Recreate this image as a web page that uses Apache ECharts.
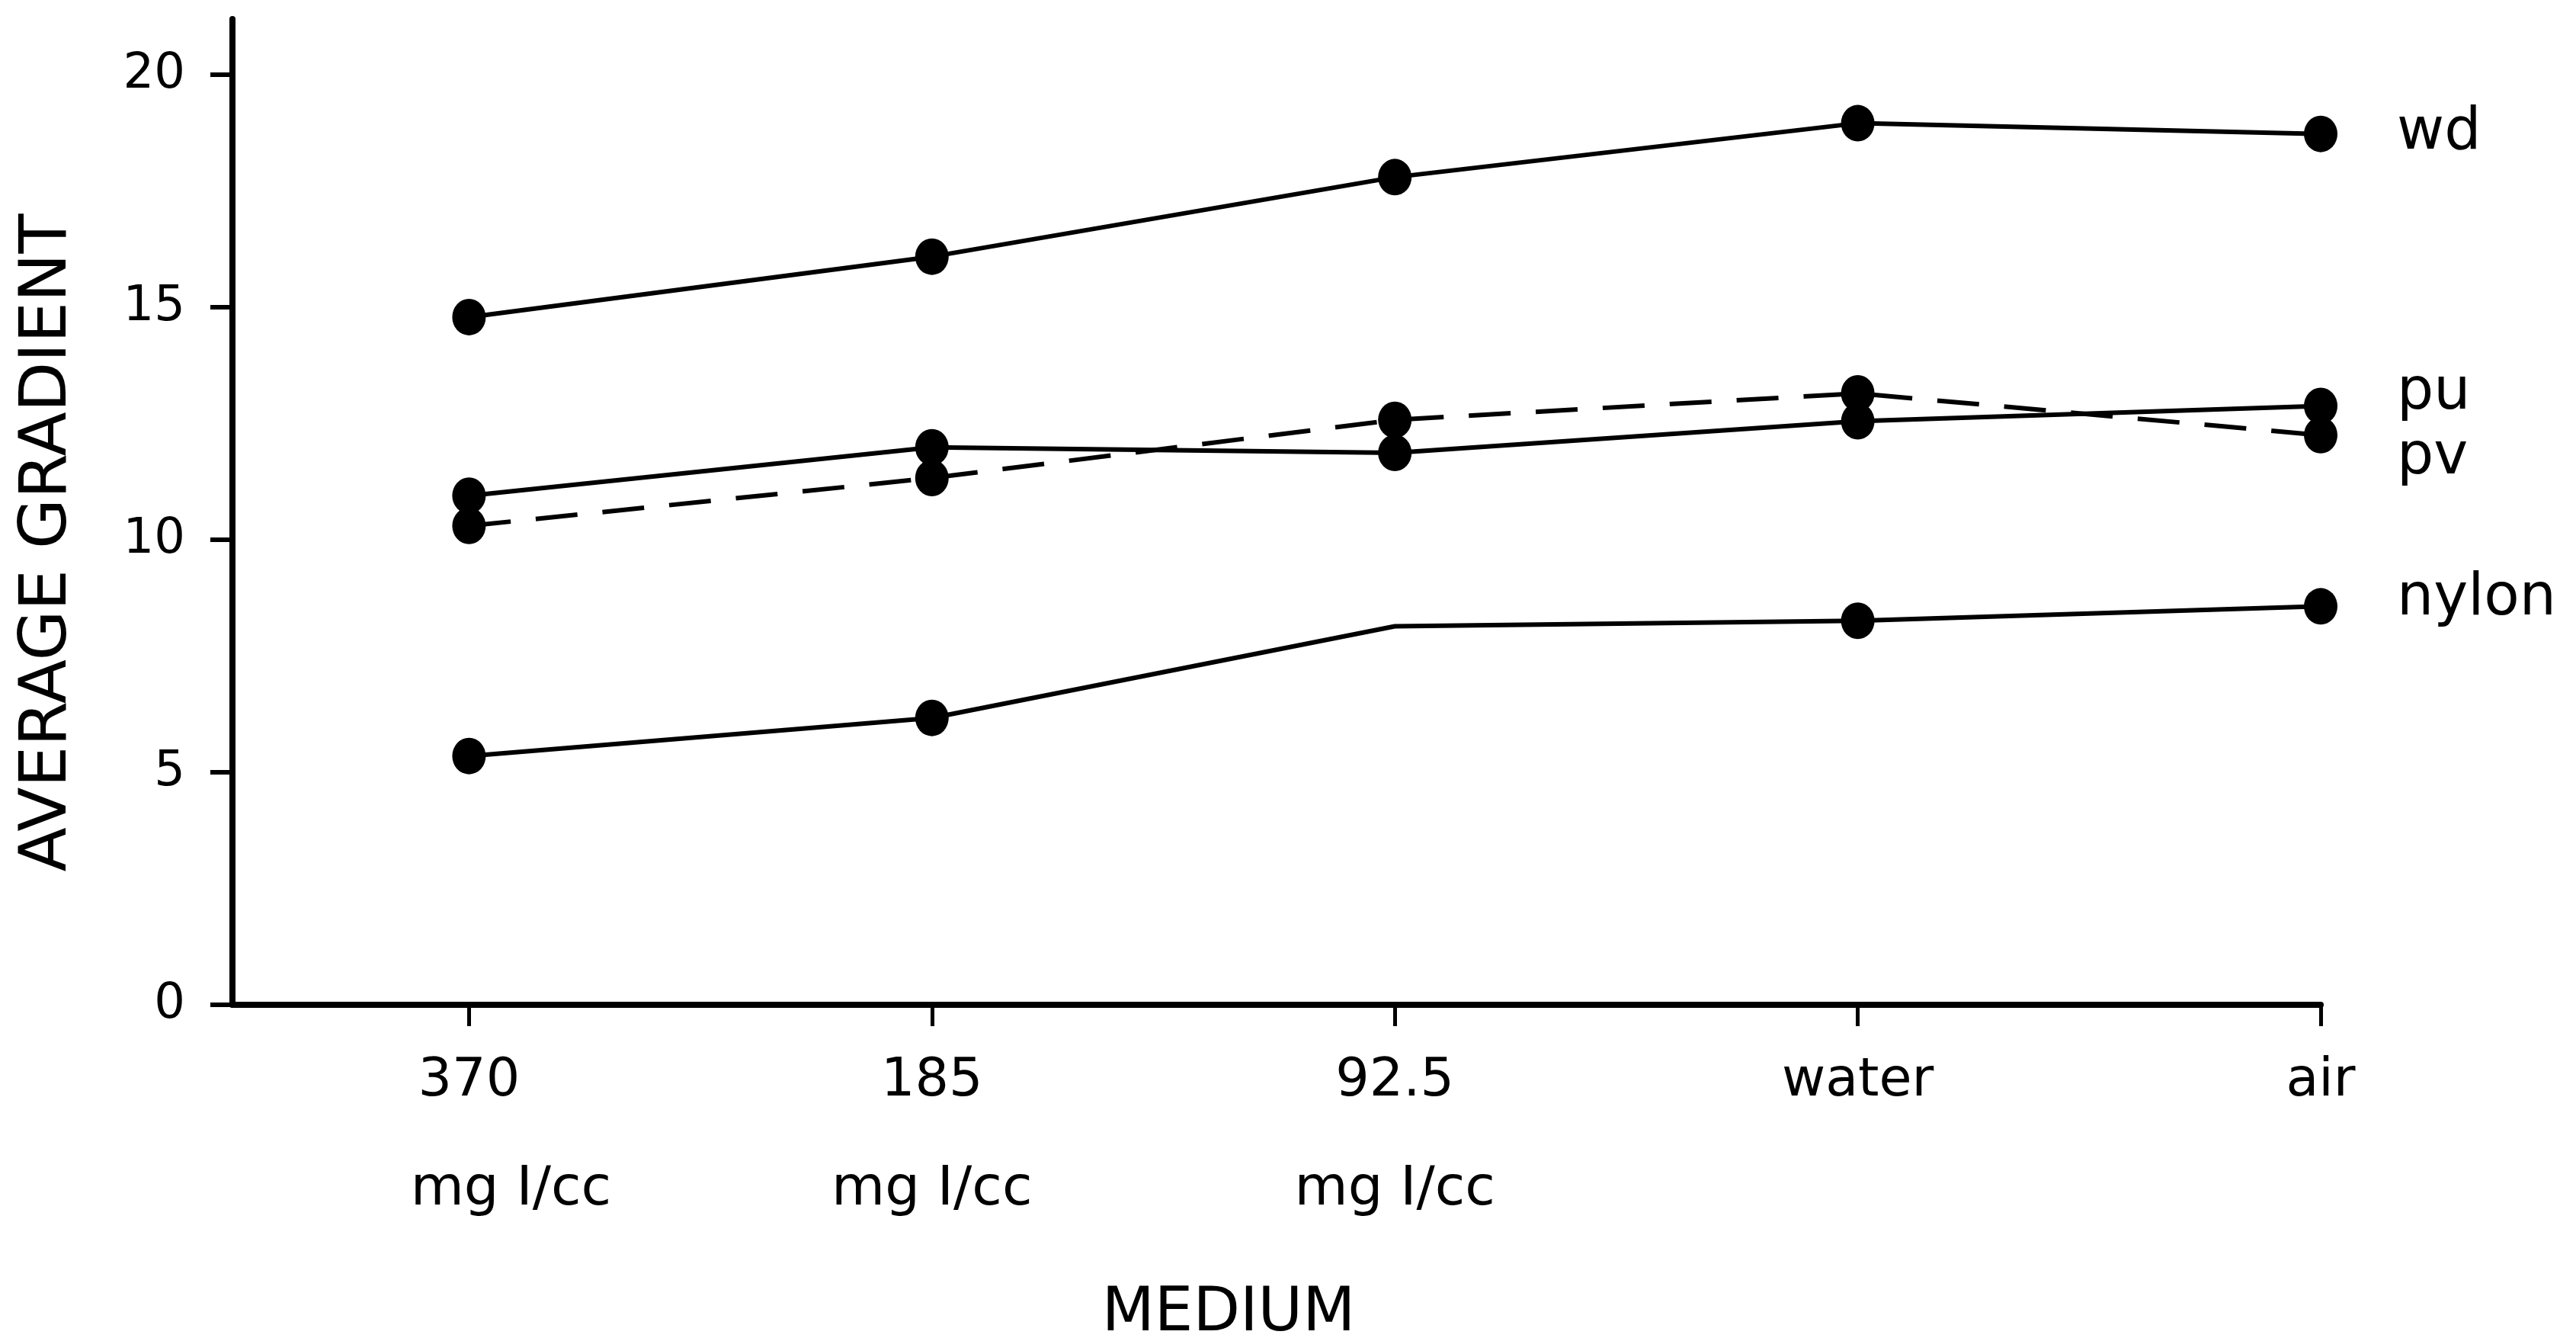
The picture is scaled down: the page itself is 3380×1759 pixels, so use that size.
<!DOCTYPE html>
<html>
<head>
<meta charset="utf-8">
<script src="https://cdn.jsdelivr.net/npm/echarts@6/dist/echarts.min.js"></script>
<style>
html,body{margin:0;padding:0;background:#ffffff;}
#chart{width:3380px;height:1759px;}
</style>
</head>
<body>
<div id="chart"></div>
<script>
// ---- data ----
const categories = ['370', '185', '92.5', 'water', 'air'];
const categoryUnits = ['mg I/cc', 'mg I/cc', 'mg I/cc', '', ''];
const yTicks = [0, 5, 10, 15, 20];
const wd    = [14.79, 16.09, 17.80, 18.96, 18.73];
const pu    = [10.95, 11.99, 11.87, 12.55, 12.88];
const pv    = [10.30, 11.33, 12.58, 13.15, 12.25];
const nylon = [5.35, 6.17, 8.14, 8.26, 8.57];
const nylonMarkerShown = [true, true, false, true, true];

const FONT = 'DejaVu Sans';
const catPos = categories.map((c, i) => i + 1);
const toPoints = arr => arr.map((v, i) => [catPos[i], v]);

function makeSeries(name, arr, dashed, labelDy, markerShown) {
  return {
    name: name,
    type: 'line',
    data: toPoints(arr),
    clip: false,
    symbol: markerShown ? (val, p) => (markerShown[p.dataIndex] ? 'circle' : 'none') : 'circle',
    symbolSize: [44, 48],
    itemStyle: { color: '#000' },
    lineStyle: { color: '#000', width: 6, type: dashed ? [55, 33] : 'solid' },
    z: dashed ? 3 : 4,
    endLabel: {
      show: true,
      formatter: name,
      distance: 100,
      offset: [0, labelDy],
      color: '#000',
      fontFamily: FONT,
      fontSize: 76
    },
    emphasis: { disabled: true }
  };
}

const chart = echarts.init(document.getElementById('chart'), null, { renderer: 'canvas' });
chart.setOption({
  animation: false,
  backgroundColor: '#ffffff',
  grid: { left: 305, right: 335, top: 25, bottom: 441, containLabel: false },
  xAxis: {
    type: 'value',
    min: 0.489,
    max: 5,
    splitLine: { show: false },
    axisLine: { show: true, onZero: false, lineStyle: { color: '#000', width: 8 } },
    axisTick: { show: true, inside: false, length: 28, customValues: catPos, lineStyle: { color: '#000', width: 5 } },
    axisLabel: {
      show: true,
      customValues: catPos,
      margin: 30,
      color: '#000',
      fontFamily: FONT,
      fontSize: 70,
      lineHeight: 142,
      formatter: function (v) {
        const i = Math.round(v) - 1;
        const unit = categoryUnits[i];
        if (!unit) return '{a|' + categories[i] + '}';
        return '{a|' + categories[i] + '}\n' + (i === 0 ? '{s|' : '{b|') + unit + '}';
      },
      rich: {
        a: { fontFamily: FONT, fontSize: 70, lineHeight: 142, color: '#000' },
        b: { fontFamily: FONT, fontSize: 72, lineHeight: 142, color: '#000' },
        s: { fontFamily: FONT, fontSize: 72, lineHeight: 142, color: '#000', padding: [0, 0, 0, 110] }
      }
    }
  },
  yAxis: {
    type: 'value',
    min: 0,
    max: 21.2,
    interval: 5,
    splitLine: { show: false },
    axisLine: { show: true, lineStyle: { color: '#000', width: 8 } },
    axisTick: { show: true, inside: false, length: 29, customValues: yTicks, lineStyle: { color: '#000', width: 6 } },
    axisLabel: { show: true, customValues: yTicks, margin: 62, color: '#000', fontFamily: FONT, fontSize: 64 }
  },
  graphic: [
    {
      type: 'text',
      x: 64, y: 712,
      rotation: Math.PI / 2,
      style: { text: 'AVERAGE GRADIENT', fill: '#000', font: '85px "DejaVu Sans"', align: 'center', verticalAlign: 'middle' }
    },
    {
      type: 'text',
      x: 1612, y: 1724,
      style: { text: 'MEDIUM', fill: '#000', font: '80px "DejaVu Sans"', align: 'center', verticalAlign: 'middle' }
    }
  ],
  series: [
    makeSeries('wd', wd, false, 0, null),
    makeSeries('pu', pu, false, -16, null),
    makeSeries('pv', pv, true, 30, null),
    makeSeries('nylon', nylon, false, -9, nylonMarkerShown)
  ]
});
</script>
</body>
</html>
